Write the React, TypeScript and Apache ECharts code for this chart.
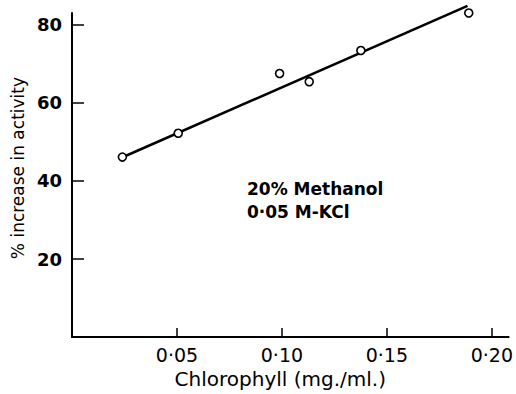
import React, { useEffect, useRef } from "react";
import * as echarts from "echarts";

const chlorophyll = [0.024, 0.0506, 0.0989, 0.113, 0.1376, 0.189];
const activity = [46.1, 52.2, 67.5, 65.4, 73.4, 83.0];
const fitX = [0.023, 0.1884];
const fitY = [45.8, 84.8];
const xTicks = [0.05, 0.1, 0.15, 0.2];
const yTicks = [20, 40, 60, 80];
const notes = ["20% Methanol", "0·05 M-KCl"];

const FONT = "DejaVu Sans";

export default function App() {
  const ref = useRef<HTMLDivElement>(null);
  useEffect(() => {
    if (!ref.current) return;
    const chart = echarts.init(ref.current, null, { renderer: "svg" });
    chart.setOption({
      animation: false,
      backgroundColor: "#ffffff",
      grid: { left: 72, top: 13, right: 4, bottom: 55, containLabel: false },
      xAxis: {
        type: "value",
        min: 0,
        max: 0.208,
        name: "Chlorophyll (mg./ml.)",
        nameLocation: "middle",
        nameGap: 30,
        nameTextStyle: { fontFamily: FONT, fontSize: 20, color: "#000", padding: [0, 20, 0, 0] },
        axisLine: { lineStyle: { color: "#000", width: 2 } },
        axisTick: { inside: true, length: 9, customValues: xTicks, lineStyle: { color: "#000", width: 1.5 } },
        axisLabel: {
          customValues: xTicks,
          margin: 8,
          fontFamily: FONT,
          fontSize: 19,
          color: "#000",
          formatter: (v: number) => v.toFixed(2).replace(".", "·"),
        },
        splitLine: { show: false },
      },
      yAxis: {
        type: "value",
        min: 0,
        max: 83,
        name: "% increase in activity",
        nameLocation: "middle",
        nameGap: 46,
        nameRotate: 90,
        nameTextStyle: { fontFamily: FONT, fontSize: 17, color: "#000", padding: [0, 0, 0, 14] },
        axisLine: { lineStyle: { color: "#000", width: 2 } },
        axisTick: { inside: true, length: 12, customValues: yTicks, lineStyle: { color: "#000", width: 1.5 } },
        axisLabel: {
          customValues: yTicks,
          margin: 10,
          fontFamily: FONT,
          fontSize: 18,
          fontWeight: "bold",
          color: "#000",
        },
        splitLine: { show: false },
      },
      series: [
        {
          type: "line",
          data: fitX.map((x, i) => [x, fitY[i]]),
          symbol: "none",
          clip: false,
          lineStyle: { color: "#000", width: 2.5 },
          z: 2,
        },
        {
          type: "scatter",
          data: chlorophyll.map((x, i) => [x, activity[i]]),
          symbol: "circle",
          symbolSize: 8,
          itemStyle: { color: "#fff", borderColor: "#000", borderWidth: 1.6, opacity: 1 },
          z: 3,
        },
      ],
      graphic: [
        {
          type: "text",
          left: 247,
          top: 180,
          style: { text: notes[0], fontFamily: FONT, fontSize: 17, fontWeight: "bold", fill: "#000" },
        },
        {
          type: "text",
          left: 247,
          top: 203,
          style: { text: notes[1], fontFamily: FONT, fontSize: 17, fontWeight: "bold", fill: "#000" },
        },
      ],
    });
    return () => chart.dispose();
  }, []);
  return (
    <div
      ref={ref}
      style={{ position: "fixed", left: 0, top: 0, width: 516, height: 394, background: "#fff" }}
    />
  );
}
